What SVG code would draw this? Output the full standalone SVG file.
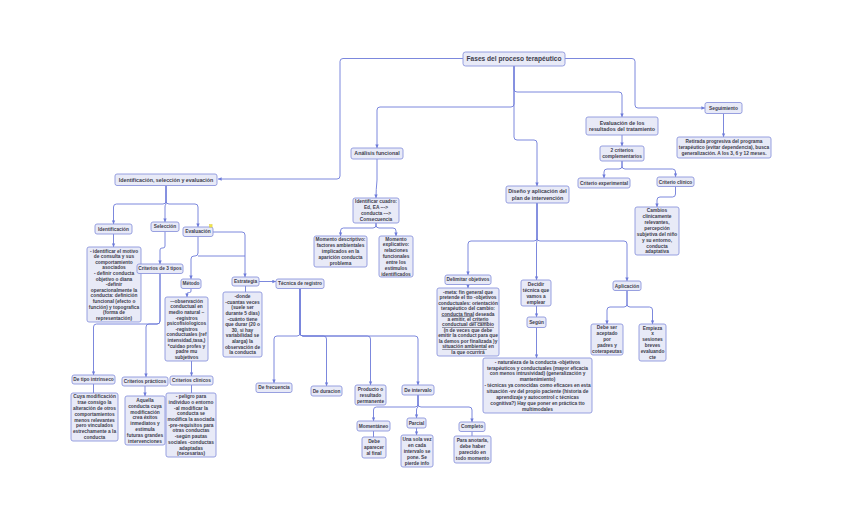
<svg xmlns="http://www.w3.org/2000/svg" width="848" height="528" viewBox="0 0 848 528">
<style>
.b{fill:#e8eaf7;stroke:#8d96dc;stroke-width:0.9}
.t{font-family:"Liberation Sans",Arial,sans-serif;font-weight:bold;font-size:4.8px;fill:#3d3d4d;text-anchor:middle}
.m{font-size:5.3px}
.h{font-size:6.6px}
.c{fill:none;stroke:#6d7bd9;stroke-width:0.9;stroke-linejoin:round}
.a{marker-end:url(#ar)}
</style>
<defs>
<marker id="ar" markerUnits="userSpaceOnUse" markerWidth="4" markerHeight="4" refX="3.6" refY="2" orient="auto">
<path d="M0,0.3 L3.8,2 L0,3.7 z" fill="#6d7bd9"/>
</marker>
</defs>
<rect width="848" height="528" fill="#ffffff"/>
<g id="connectors">
<path class="c a" d="M463,58.5 H343 Q340,58.5 340,61.5 V176 Q340,179 337,179 H218"/>
<path class="c a" d="M565,58.5 H632 Q635,58.5 635,61.5 V105 Q635,108 638,108 H705"/>
<path class="c a" d="M514,66 V104 Q514,107 511,107 H380 Q377,107 377,110 V148"/>
<path class="c a" d="M514,66 V89 Q514,92 517,92 H619 Q622,92 622,95 V117"/>
<path class="c a" d="M514,66 V137 Q514,140 517,140 H534 Q537,140 537,143 V186"/>
<path class="c a" d="M723.5,113.5 V137"/>
<path class="c a" d="M622,135 V146"/>
<path class="c a" d="M622,161 V166 Q622,169 619,169 H607 Q604,169 604,172 V178"/>
<path class="c a" d="M622,161 V166 Q622,169 625,169 H672.5 Q675.5,169 675.5,172 V177"/>
<path class="c a" d="M675.5,186.5 V194 Q675.5,197 672.5,197 H660 Q657,197 657,200 V207"/>
<path class="c a" d="M537,203 V238 Q537,241 534,241 H471 Q468,241 468,244 V275"/>
<path class="c a" d="M537,203 V241 Q536.5,242 536.5,244 V280"/>
<path class="c a" d="M537,203 V238 Q537,241 540,241 H624 Q627,241 627,244 V281"/>
<path class="c a" d="M468,284.5 V288"/>
<path class="c a" d="M536.5,306 V317"/>
<path class="c a" d="M536.5,327.5 V358"/>
<path class="c a" d="M627,290.5 V304 Q627,307 624,307 H610 Q607,307 607,310 V324"/>
<path class="c a" d="M627,290.5 V304 Q627,307 630,307 H649.5 Q652.5,307 652.5,310 V324"/>
<path class="c a" d="M377,159 V180 Q376,190 376,198"/>
<path class="c a" d="M376,223 V225 Q376,228 373,228 H343.5 Q340.5,228 340.5,231 V236"/>
<path class="c a" d="M376,223 V225 Q376,228 379,228 H393 Q396,228 396,231 V236"/>
<path class="c a" d="M166,185.5 V201 Q166,204 163,204 H116.5 Q113.5,204 113.5,207 V224"/>
<path class="c a" d="M166,185.5 V204 Q165,205 165,207 V222"/>
<path class="c a" d="M166,185.5 V201 Q166,204 169,204 H195 Q198,204 198,207 V227"/>
<path class="c a" d="M113.5,234 V247"/>
<path class="c a" d="M165,231.5 V246 Q165,248 163,248 H162 Q160,248 160,250 V264"/>
<path class="c a" d="M213,232 H242 Q245,232 245,235 V277"/>
<path class="c a" d="M198,236.5 V253 Q198,256 195,256 H194 Q191,256 191,259 V279"/>
<path class="c" d="M198,256 H245"/>
<path class="c a" d="M191,288.5 V291 Q191,292.5 189.5,292.5 H188.5 Q187,292.5 187,294 V297"/>
<path class="c a" d="M160,273.5 V321 Q160,324 157,324 H96.5 Q93.5,324 93.5,327 V375"/>
<path class="c a" d="M160,273.5 V321 Q160,324 157,324 H149 Q146,324 146,327 V377"/>
<path class="c a" d="M191.5,361 V376"/>
<path class="c" d="M245.5,286 V292"/>
<path class="c a" d="M259,281.5 H276"/>
<path class="c a" d="M300,288.5 V333 Q300,336 297,336 H277 Q274,336 274,339 V383"/>
<path class="c a" d="M300,288.5 V333 Q300,336 303,336 H323.5 Q326.5,336 326.5,339 V386"/>
<path class="c a" d="M300,288.5 V333 Q300,336 303,336 H367.5 Q370.5,336 370.5,339 V385"/>
<path class="c a" d="M300,288.5 V333 Q300,336 303,336 H415 Q418,336 418,339 V385"/>
<path class="c" d="M93.5,384 V393"/>
<path class="c a" d="M145,386 V396"/>
<path class="c" d="M191.5,385 V393"/>
<path class="c a" d="M418,395 V404 Q418,407 415,407 H376.5 Q373.5,407 373.5,410 V421"/>
<path class="c a" d="M418,395 V407 Q416.5,408 416.5,410 V418"/>
<path class="c a" d="M418,395 V404 Q418,407 421,407 H469 Q472,407 472,410 V422"/>
<path class="c" d="M373.5,431 V437"/>
<path class="c a" d="M416.5,428 V435"/>
<path class="c" d="M472,431.5 V436"/>
</g>
<g id="n-title"><rect class="b" x="463" y="52" width="102" height="14" rx="2.5"/><text class="t h" x="514" y="61.3">Fases del proceso terapéutico</text></g>
<g id="n-seguimiento"><rect class="b" x="705" y="102.5" width="37" height="11" rx="2"/><text class="t" x="723.5" y="109.7">Seguimiento</text></g>
<g id="n-retirada"><rect class="b" x="677" y="137" width="94" height="21" rx="2"/><text class="t" x="724" y="143.3">Retirada progresiva del programa<tspan x="724" dy="5.9">terapéutico (evitar dependencia), busca</tspan><tspan x="724" dy="5.9">generalización. A los 3, 6 y 12 meses.</tspan></text></g>
<g id="n-evalres"><rect class="b" x="586" y="117" width="72" height="18" rx="2"/><text class="t m" x="622" y="124.7">Evaluación de los<tspan x="622" dy="6.3">resultados del tratamiento</tspan></text></g>
<g id="n-2criterios"><rect class="b" x="600" y="146" width="44" height="15" rx="2"/><text class="t" x="622" y="152.3">2 criterios<tspan x="622" dy="5.9">complementarios</tspan></text></g>
<g id="n-critexp"><rect class="b" x="578" y="178" width="52" height="10" rx="2"/><text class="t" x="604" y="184.7">Criterio experimental</text></g>
<g id="n-critclin"><rect class="b" x="657" y="177" width="37" height="9.5" rx="2"/><text class="t" x="675.5" y="183.5">Criterio clínico</text></g>
<g id="n-cambios"><rect class="b" x="635" y="207" width="44" height="48" rx="2"/><text class="t" x="657" y="212.1">Cambios<tspan x="657" dy="5.9">clínicamente</tspan><tspan x="657" dy="5.9">relevantes,</tspan><tspan x="657" dy="5.9">percepción</tspan><tspan x="657" dy="5.9">subjetiva del niño</tspan><tspan x="657" dy="5.9">y su entorno,</tspan><tspan x="657" dy="5.9">conducta</tspan><tspan x="657" dy="5.9">adaptativa</tspan></text></g>
<g id="n-diseno"><rect class="b" x="506" y="186" width="63" height="17" rx="2"/><text class="t m" x="537.5" y="193.2">Diseño y aplicación del<tspan x="537.5" dy="6.3">plan de intervención</tspan></text></g>
<g id="n-delimitar"><rect class="b" x="445" y="275" width="46" height="9.5" rx="2"/><text class="t" x="468" y="281.4">Delimitar objetivos</text></g>
<g id="n-delimitar-txt"><rect class="b" x="437" y="288" width="62" height="68" rx="2"/><text class="t" x="468" y="293.7">-meta: fin general que<tspan x="468" dy="5.45">pretende el tto -objetivos</tspan><tspan x="468" dy="5.45">conductuales: orientación</tspan><tspan x="468" dy="5.45">terapéutico del cambio:</tspan><tspan x="468" dy="5.45"><tspan text-decoration="underline">conducta final</tspan> deseada</tspan><tspan x="468" dy="5.45">a emitir, el <tspan text-decoration="underline">criterio</tspan></tspan><tspan x="468" dy="5.45" text-decoration="underline">conductual del cambio</tspan><tspan x="468" dy="5.45">(n de veces que debe</tspan><tspan x="468" dy="5.45">emitir la conduct para que</tspan><tspan x="468" dy="5.45">la demos por finalizada )y</tspan><tspan x="468" dy="5.45"><tspan text-decoration="underline">situación ambiental</tspan> en</tspan><tspan x="468" dy="5.45">la que ocurrirá</tspan></text></g>
<g id="n-decidir"><rect class="b" x="521" y="280" width="30" height="26" rx="2"/><text class="t" x="536" y="285.9">Decidir<tspan x="536" dy="5.9">técnica que</tspan><tspan x="536" dy="5.9">vamos a</tspan><tspan x="536" dy="5.9">emplear</tspan></text></g>
<g id="n-segun"><rect class="b" x="527" y="317" width="19" height="10.5" rx="2"/><text class="t" x="536.5" y="324">Según</text></g>
<g id="n-naturaleza"><rect class="b" x="483" y="358" width="109" height="55" rx="2"/><text class="t" x="537.5" y="363.6">- naturaleza de la conducta -objetivos<tspan x="537.5" dy="5.9">terapéuticos y conductuales (mayor eficacia</tspan><tspan x="537.5" dy="5.9">con menos intrusividad) (generalización y</tspan><tspan x="537.5" dy="5.9">mantenimiento)</tspan><tspan x="537.5" dy="5.9">- técnicas ya conocidas como eficaces en esta</tspan><tspan x="537.5" dy="5.9">situación -vv del propio paciente (historia de</tspan><tspan x="537.5" dy="5.9">aprendizaje y autocontrol c técnicas</tspan><tspan x="537.5" dy="5.9">cognitiva?) Hay que poner en práctica tto</tspan><tspan x="537.5" dy="5.9">multimodales</tspan></text></g>
<g id="n-aplicacion"><rect class="b" x="613" y="281" width="28" height="9.5" rx="2"/><text class="t" x="627" y="287.5">Aplicación</text></g>
<g id="n-debe"><rect class="b" x="591" y="324" width="32" height="31" rx="2"/><text class="t" x="607" y="329.4">Debe ser<tspan x="607" dy="5.9">aceptado</tspan><tspan x="607" dy="5.9">por</tspan><tspan x="607" dy="5.9">padres y</tspan><tspan x="607" dy="5.9">coterapeutas</tspan></text></g>
<g id="n-empieza"><rect class="b" x="639" y="324" width="27" height="37" rx="2"/><text class="t" x="652.5" y="329.5">Empieza<tspan x="652.5" dy="5.9">x</tspan><tspan x="652.5" dy="5.9">sesiones</tspan><tspan x="652.5" dy="5.9">breves</tspan><tspan x="652.5" dy="5.9">evaluando</tspan><tspan x="652.5" dy="5.9">cte</tspan></text></g>
<g id="n-analisis"><rect class="b" x="351" y="148" width="52" height="11" rx="2"/><text class="t m" x="377" y="155.3">Análisis funcional</text></g>
<g id="n-cuadro"><rect class="b" x="353" y="198" width="46" height="25" rx="2"/><text class="t" x="376" y="203.4">Identificar cuadro:<tspan x="376" dy="5.9">Ed, EA ---&gt;</tspan><tspan x="376" dy="5.9">conducta ---&gt;</tspan><tspan x="376" dy="5.9">Consecuencia</tspan></text></g>
<g id="n-momdesc"><rect class="b" x="314" y="236" width="53" height="31" rx="2"/><text class="t" x="340.5" y="241.4">Momento descriptivo:<tspan x="340.5" dy="5.9">factores ambientales</tspan><tspan x="340.5" dy="5.9">implicados en la</tspan><tspan x="340.5" dy="5.9">aparición conducta</tspan><tspan x="340.5" dy="5.9">problema</tspan></text></g>
<g id="n-momexp"><rect class="b" x="379" y="236" width="34" height="41" rx="2"/><text class="t" x="396" y="240.5">Momento<tspan x="396" dy="5.9">explicativo:</tspan><tspan x="396" dy="5.9">relaciones</tspan><tspan x="396" dy="5.9">funcionales</tspan><tspan x="396" dy="5.9">entre los</tspan><tspan x="396" dy="5.9">estímulos</tspan><tspan x="396" dy="5.9">identificados</tspan></text></g>
<g id="n-ise"><rect class="b" x="115" y="174" width="102" height="11.5" rx="2"/><text class="t m" x="166" y="181.6">Identificación, selección y evaluación</text></g>
<g id="n-identificacion"><rect class="b" x="95" y="224" width="37" height="10" rx="2"/><text class="t" x="113.5" y="230.7">Identificación</text></g>
<g id="n-ident-txt"><rect class="b" x="87" y="247" width="54" height="75" rx="2"/><text class="t" x="114" y="252.6">- identificar el motivo<tspan x="114" dy="5.6">de consulta y sus</tspan><tspan x="114" dy="5.6">comportamiento</tspan><tspan x="114" dy="5.6">asociados</tspan><tspan x="114" dy="5.6">- definir conducta</tspan><tspan x="114" dy="5.6">objetivo o diana</tspan><tspan x="114" dy="5.6">-definir</tspan><tspan x="114" dy="5.6">operacionalmente la</tspan><tspan x="114" dy="5.6">conducta: definición</tspan><tspan x="114" dy="5.6">funcional (efecto o</tspan><tspan x="114" dy="5.6">función) y topografica</tspan><tspan x="114" dy="5.6">(forma de</tspan><tspan x="114" dy="5.6">representación)</tspan></text></g>
<g id="n-seleccion"><rect class="b" x="151" y="222" width="28" height="9.5" rx="2"/><text class="t" x="165" y="228.4">Selección</text></g>
<g id="n-evaluacion"><rect class="b" x="183" y="227" width="30" height="9.5" rx="2"/><text class="t" x="198" y="233.4">Evaluación</text><rect x="209.5" y="224.5" width="2.6" height="2.6" fill="#f3e64a" stroke="#d8c830" stroke-width="0.4"/></g>
<g id="n-crit3"><rect class="b" x="137" y="264" width="46" height="9.5" rx="2"/><text class="t" x="160" y="270.4">Criterios de 3 tipos</text></g>
<g id="n-metodo"><rect class="b" x="181" y="279" width="20" height="9.5" rx="2"/><text class="t" x="191" y="285.4">Método</text></g>
<g id="n-metodo-txt"><rect class="b" x="165" y="297" width="43" height="64" rx="2"/><text class="t" x="186.5" y="302.7">-~observación<tspan x="186.5" dy="5.6">conductual en</tspan><tspan x="186.5" dy="5.6">medio natural ~</tspan><tspan x="186.5" dy="5.6">-registros</tspan><tspan x="186.5" dy="5.6">psicofisiologicos</tspan><tspan x="186.5" dy="5.6">-registros</tspan><tspan x="186.5" dy="5.6">conductuales (ref</tspan><tspan x="186.5" dy="5.6">intensidad,tasa,)</tspan><tspan x="186.5" dy="5.6">*cuidao profes y</tspan><tspan x="186.5" dy="5.6">padre mu</tspan><tspan x="186.5" dy="5.6">subjetivos</tspan></text></g>
<g id="n-estrategia"><rect class="b" x="232" y="277" width="27" height="9" rx="2"/><text class="t" x="245.5" y="283.2">Estrategia</text></g>
<g id="n-estrategia-txt"><rect class="b" x="223" y="292" width="39" height="65" rx="2"/><text class="t" x="242.5" y="298.2">-donde<tspan x="242.5" dy="5.6">-cuantas veces</tspan><tspan x="242.5" dy="5.6">(suele ser</tspan><tspan x="242.5" dy="5.6">durante 5 días)</tspan><tspan x="242.5" dy="5.6">-cuánto tiene</tspan><tspan x="242.5" dy="5.6">que durar (20 o</tspan><tspan x="242.5" dy="5.6">30, si hay</tspan><tspan x="242.5" dy="5.6">variabilidad se</tspan><tspan x="242.5" dy="5.6">alarga) la</tspan><tspan x="242.5" dy="5.6">observación de</tspan><tspan x="242.5" dy="5.6">la conducta</tspan></text></g>
<g id="n-tecnica"><rect class="b" x="276" y="279" width="48" height="9.5" rx="2"/><text class="t" x="300" y="285.4">Técnica de registro</text></g>
<g id="n-intrinseco"><rect class="b" x="72" y="375" width="43" height="9" rx="2"/><text class="t" x="93.5" y="381.2">De tipo intrínseco</text></g>
<g id="n-intrinseco-txt"><rect class="b" x="71" y="393" width="47" height="48" rx="2"/><text class="t" x="94.5" y="398.4">Cuya modificación<tspan x="94.5" dy="5.8">trae consigo la</tspan><tspan x="94.5" dy="5.8">alteración de otros</tspan><tspan x="94.5" dy="5.8">comportamientos</tspan><tspan x="94.5" dy="5.8">menos relevantes</tspan><tspan x="94.5" dy="5.8">pero vinculados</tspan><tspan x="94.5" dy="5.8">estrechamente a la</tspan><tspan x="94.5" dy="5.8">conducta</tspan></text></g>
<g id="n-practicos"><rect class="b" x="122" y="377" width="46" height="9" rx="2"/><text class="t" x="145" y="383.2">Criterios prácticos</text></g>
<g id="n-practicos-txt"><rect class="b" x="125" y="396" width="40" height="49" rx="2"/><text class="t" x="145" y="401.9">Aquella<tspan x="145" dy="5.8">conducta cuya</tspan><tspan x="145" dy="5.8">modificación</tspan><tspan x="145" dy="5.8">crea éxitos</tspan><tspan x="145" dy="5.8">inmediatos y</tspan><tspan x="145" dy="5.8">estimula</tspan><tspan x="145" dy="5.8">futuras grandes</tspan><tspan x="145" dy="5.8">intervenciones</tspan></text></g>
<g id="n-clinicos"><rect class="b" x="170" y="376" width="43" height="9" rx="2"/><text class="t" x="191.5" y="382.2">Criterios clínicos</text></g>
<g id="n-clinicos-txt"><rect class="b" x="166" y="393" width="50" height="64" rx="2"/><text class="t" x="191" y="398.2">- peligro para<tspan x="191" dy="5.7">individuo o entorno</tspan><tspan x="191" dy="5.7">-al modificar la</tspan><tspan x="191" dy="5.7">conducta se</tspan><tspan x="191" dy="5.7">modifica la asociada</tspan><tspan x="191" dy="5.7">-pre-requisitos para</tspan><tspan x="191" dy="5.7">otras conductas</tspan><tspan x="191" dy="5.7">-según pautas</tspan><tspan x="191" dy="5.7">sociales -conductas</tspan><tspan x="191" dy="5.7">adaptadas</tspan><tspan x="191" dy="5.7">(necesarias)</tspan></text></g>
<g id="n-frecuencia"><rect class="b" x="256" y="383" width="36" height="9.5" rx="2"/><text class="t" x="274" y="389.4">De frecuencia</text></g>
<g id="n-duracion"><rect class="b" x="311" y="386" width="31" height="10" rx="2"/><text class="t" x="326.5" y="392.7">De duracion</text></g>
<g id="n-producto"><rect class="b" x="355" y="385" width="31" height="20" rx="2"/><text class="t" x="370.5" y="390.8">Producto o<tspan x="370.5" dy="5.9">resultado</tspan><tspan x="370.5" dy="5.9">permanente</tspan></text></g>
<g id="n-intervalo"><rect class="b" x="402" y="385" width="32" height="10" rx="2"/><text class="t" x="418" y="391.7">De intervalo</text></g>
<g id="n-momentaneo"><rect class="b" x="357" y="421" width="33" height="10" rx="2"/><text class="t" x="373.5" y="427.7">Momentáneo</text></g>
<g id="n-parcial"><rect class="b" x="407" y="418" width="19" height="10" rx="2"/><text class="t" x="416.5" y="424.7">Parcial</text></g>
<g id="n-completo"><rect class="b" x="459" y="422" width="26" height="9.5" rx="2"/><text class="t" x="472" y="428.4">Completo</text></g>
<g id="n-momentaneo-txt"><rect class="b" x="362" y="437" width="24" height="21" rx="2"/><text class="t" x="374" y="443.3">Debe<tspan x="374" dy="5.9">aparecer</tspan><tspan x="374" dy="5.9">al final</tspan></text></g>
<g id="n-parcial-txt"><rect class="b" x="401" y="435" width="32" height="32" rx="2"/><text class="t" x="417" y="440.9">Una sola vez<tspan x="417" dy="5.9">en cada</tspan><tspan x="417" dy="5.9">intervalo se</tspan><tspan x="417" dy="5.9">pone. Se</tspan><tspan x="417" dy="5.9">pierde info</tspan></text></g>
<g id="n-completo-txt"><rect class="b" x="454" y="436" width="37" height="27" rx="2"/><text class="t" x="472.5" y="442.4">Para anotarla,<tspan x="472.5" dy="5.9">debe haber</tspan><tspan x="472.5" dy="5.9">parecido en</tspan><tspan x="472.5" dy="5.9">todo momento</tspan></text></g>
</svg>
